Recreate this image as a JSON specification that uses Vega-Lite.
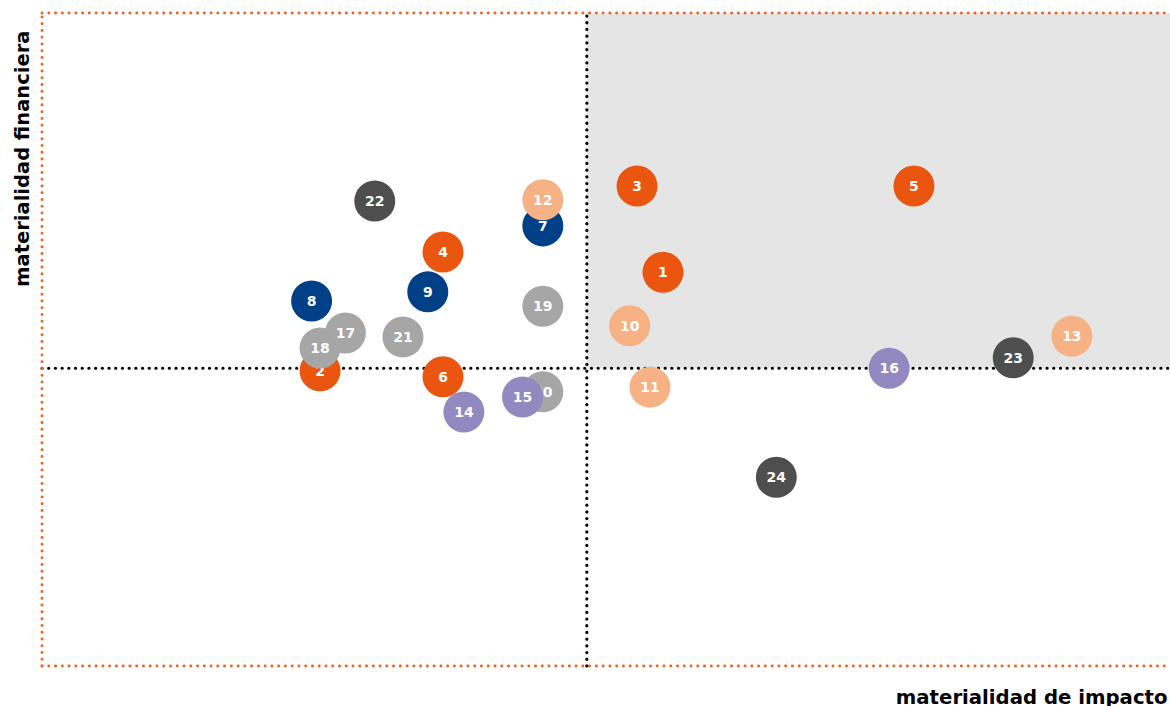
{
  "$schema": "https://vega.github.io/schema/vega-lite/v6.json",
  "width": 1128,
  "height": 653,
  "autosize": {"type": "none"},
  "padding": {"left": 42, "top": 13, "right": 0, "bottom": 40},
  "background": "white",
  "config": {"view": {"stroke": null}, "font": "DejaVu Sans"},
  "datasets": {
    "temas": [
      {"id": "1", "impacto": 55.05, "financiera": 60.3, "grupo": "A", "capa": 0},
      {"id": "2", "impacto": 24.65, "financiera": 45.2, "grupo": "A", "capa": 0},
      {"id": "3", "impacto": 52.75, "financiera": 73.5, "grupo": "A", "capa": 0},
      {"id": "4", "impacto": 35.55, "financiera": 63.4, "grupo": "A", "capa": 0},
      {"id": "5", "impacto": 77.3, "financiera": 73.5, "grupo": "A", "capa": 0},
      {"id": "6", "impacto": 35.55, "financiera": 44.3, "grupo": "A", "capa": 0},
      {"id": "7", "impacto": 44.4, "financiera": 67.4, "grupo": "B", "capa": 0},
      {"id": "8", "impacto": 23.9, "financiera": 55.9, "grupo": "B", "capa": 0},
      {"id": "9", "impacto": 34.2, "financiera": 57.3, "grupo": "B", "capa": 0},
      {"id": "10", "impacto": 52.1, "financiera": 52.1, "grupo": "C", "capa": 0},
      {"id": "11", "impacto": 53.9, "financiera": 42.7, "grupo": "C", "capa": 0},
      {"id": "12", "impacto": 44.4, "financiera": 71.4, "grupo": "C", "capa": 1},
      {"id": "13", "impacto": 91.3, "financiera": 50.5, "grupo": "C", "capa": 0},
      {"id": "14", "impacto": 37.4, "financiera": 38.9, "grupo": "D", "capa": 1},
      {"id": "15", "impacto": 42.6, "financiera": 41.2, "grupo": "D", "capa": 1},
      {"id": "16", "impacto": 75.1, "financiera": 45.6, "grupo": "D", "capa": 0},
      {"id": "17", "impacto": 26.9, "financiera": 51.0, "grupo": "E", "capa": 0},
      {"id": "18", "impacto": 24.65, "financiera": 48.7, "grupo": "E", "capa": 1},
      {"id": "19", "impacto": 44.4, "financiera": 55.1, "grupo": "E", "capa": 0},
      {"id": "20", "impacto": 44.4, "financiera": 42.0, "grupo": "E", "capa": 0},
      {"id": "21", "impacto": 32.0, "financiera": 50.4, "grupo": "E", "capa": 0},
      {"id": "22", "impacto": 29.5, "financiera": 71.2, "grupo": "F", "capa": 0},
      {"id": "23", "impacto": 86.1, "financiera": 47.2, "grupo": "F", "capa": 0},
      {"id": "24", "impacto": 65.1, "financiera": 28.9, "grupo": "F", "capa": 0}
    ],
    "uno": [{"k": 1}]
  },
  "layer": [
    {
      "data": {"name": "uno"},
      "mark": {"type": "rect", "fill": "#E5E5E5"},
      "encoding": {
        "x": {"datum": 48.3, "type": "quantitative", "scale": {"domain": [0, 100], "nice": false, "zero": false},
          "axis": {"title": "materialidad de impacto", "labels": false, "ticks": false, "domain": false, "grid": false,
            "titleFont": "DejaVu Sans", "titleFontSize": 19.7, "titleFontWeight": "bold", "titleColor": "#000000",
            "titleAlign": "right", "titleBaseline": "alphabetic", "titleX": 1125, "titleY": 37}},
        "x2": {"datum": 100},
        "y": {"datum": 45.6, "type": "quantitative", "scale": {"domain": [0, 100], "nice": false, "zero": false},
          "axis": {"title": "materialidad financiera", "labels": false, "ticks": false, "domain": false, "grid": false,
            "titleFont": "DejaVu Sans", "titleFontSize": 19.5, "titleFontWeight": "bold", "titleColor": "#000000",
            "titleAngle": -90, "titleAlign": "right", "titleBaseline": "alphabetic", "titleX": -14, "titleY": 17}},
        "y2": {"datum": 100}
      }
    },
    {
      "data": {"name": "uno"},
      "mark": {"type": "rule", "color": "#000000", "strokeWidth": 3.2, "strokeCap": "round", "strokeDash": [0.1, 6.6]},
      "encoding": {"x": {"datum": 48.3, "type": "quantitative"}, "y": {"datum": 0, "type": "quantitative"}, "y2": {"datum": 100}}
    },
    {
      "data": {"name": "uno"},
      "mark": {"type": "rule", "color": "#000000", "strokeWidth": 3.2, "strokeCap": "round", "strokeDash": [0.1, 6.6]},
      "encoding": {"y": {"datum": 45.6, "type": "quantitative"}, "x": {"datum": 0, "type": "quantitative"}, "x2": {"datum": 100}}
    },
    {
      "data": {"name": "uno"},
      "mark": {"type": "rule", "color": "#EC6422", "strokeWidth": 2.9, "strokeCap": "round", "strokeDash": [0.1, 6.66]},
      "encoding": {"y": {"datum": 100, "type": "quantitative"}, "x": {"datum": 0, "type": "quantitative"}, "x2": {"datum": 100}}
    },
    {
      "data": {"name": "uno"},
      "mark": {"type": "rule", "color": "#EC6422", "strokeWidth": 2.9, "strokeCap": "round", "strokeDash": [0.1, 6.66]},
      "encoding": {"y": {"datum": 0, "type": "quantitative"}, "x": {"datum": 0, "type": "quantitative"}, "x2": {"datum": 100}}
    },
    {
      "data": {"name": "uno"},
      "mark": {"type": "rule", "color": "#EC6422", "strokeWidth": 2.9, "strokeCap": "round", "strokeDash": [0.1, 6.66]},
      "encoding": {"x": {"datum": 0, "type": "quantitative"}, "y": {"datum": 0, "type": "quantitative"}, "y2": {"datum": 100}}
    },
    {
      "data": {"name": "temas"},
      "transform": [{"filter": "datum.capa == 0"}],
      "mark": {"type": "circle", "size": 1680, "opacity": 1},
      "encoding": {
        "x": {"field": "impacto", "type": "quantitative"},
        "y": {"field": "financiera", "type": "quantitative"},
        "color": {"field": "grupo", "type": "nominal", "legend": null,
          "scale": {"domain": ["A", "B", "C", "D", "E", "F"], "range": ["#EA550F", "#013F87", "#F6B184", "#9189C0", "#A6A6A6", "#4E4E4E"]}}
      }
    },
    {
      "data": {"name": "temas"},
      "transform": [{"filter": "datum.capa == 0"}],
      "mark": {"type": "text", "font": "DejaVu Sans", "fontSize": 14, "fontWeight": "bold", "color": "#FFFFFF", "baseline": "middle", "dy": 1},
      "encoding": {
        "x": {"field": "impacto", "type": "quantitative"},
        "y": {"field": "financiera", "type": "quantitative"},
        "text": {"field": "id"}
      }
    },
    {
      "data": {"name": "temas"},
      "transform": [{"filter": "datum.capa == 1"}],
      "mark": {"type": "circle", "size": 1680, "opacity": 1},
      "encoding": {
        "x": {"field": "impacto", "type": "quantitative"},
        "y": {"field": "financiera", "type": "quantitative"},
        "color": {"field": "grupo", "type": "nominal", "legend": null}
      }
    },
    {
      "data": {"name": "temas"},
      "transform": [{"filter": "datum.capa == 1"}],
      "mark": {"type": "text", "font": "DejaVu Sans", "fontSize": 14, "fontWeight": "bold", "color": "#FFFFFF", "baseline": "middle", "dy": 1},
      "encoding": {
        "x": {"field": "impacto", "type": "quantitative"},
        "y": {"field": "financiera", "type": "quantitative"},
        "text": {"field": "id"}
      }
    }
  ]
}
